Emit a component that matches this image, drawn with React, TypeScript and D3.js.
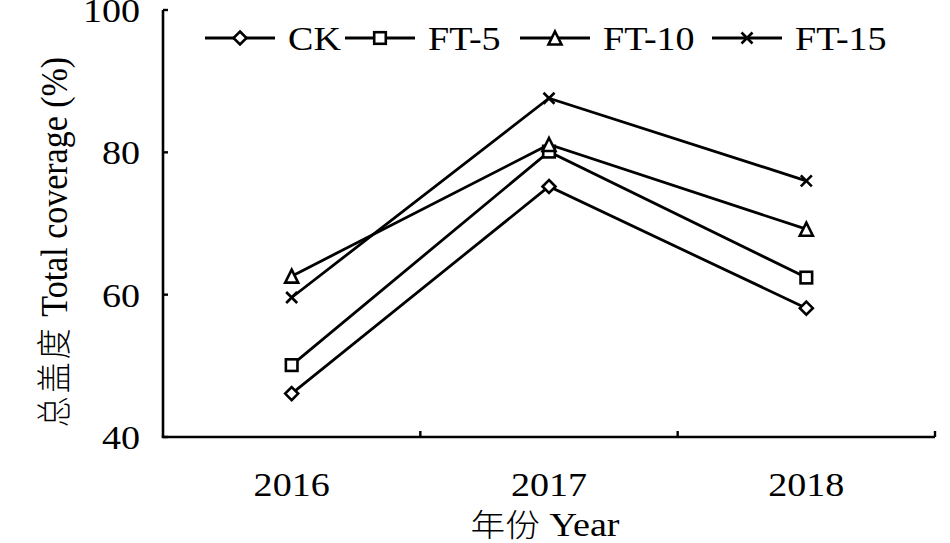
import React from "react";
import * as d3 from "d3";

const years = ["2016", "2017", "2018"];
const seriesNames = ["CK", "FT-5", "FT-10", "FT-15"];
const ckValues = [46.1, 75.2, 58.1];
const ft5Values = [50.1, 80.1, 62.4];
const ft10Values = [62.6, 81.1, 69.2];
const ft15Values = [59.6, 87.6, 76.0];
const yTicks = [40, 60, 80, 100];
const markerTypes = ["diamond", "square", "triangle", "cross"];

const W = 950, H = 543;
const left = 163, right = 935, top = 10, bottom = 437;
const FONT = "'Liberation Serif', 'Times New Roman', serif";
const CJK = "'Noto Sans CJK SC', sans-serif";
const SX = 1.12;

function Marker({ type, x, y }: { type: string; x: number; y: number }) {
  const sw = 2.6;
  if (type === "diamond") {
    const r = 6.5;
    return <path d={`M${x},${y - r}L${x + r},${y}L${x},${y + r}L${x - r},${y}Z`} fill="#fff" stroke="#000" strokeWidth={sw} />;
  }
  if (type === "square") {
    const r = 5.8;
    return <rect x={x - r} y={y - r} width={2 * r} height={2 * r} fill="#fff" stroke="#000" strokeWidth={sw} />;
  }
  if (type === "triangle") {
    const r = 6.5;
    return <path d={`M${x},${y - r}L${x + r},${y + r}L${x - r},${y + r}Z`} fill="#fff" stroke="#000" strokeWidth={sw} />;
  }
  const r = 5.5;
  return <path d={`M${x - r},${y - r}L${x + r},${y + r}M${x - r},${y + r}L${x + r},${y - r}`} stroke="#000" strokeWidth={sw} fill="none" />;
}

function T({ x, y, anchor, size, children }: any) {
  return (
    <text transform={`translate(${x},${y}) scale(${SX},1)`} textAnchor={anchor} fontSize={size} fontFamily={FONT} fill="#000">
      {children}
    </text>
  );
}

export default function App() {
  const x = d3.scaleBand<string>().domain(years).range([left, right]);
  const y = d3.scaleLinear().domain([40, 100]).range([bottom, top]);
  const allSeries = [ckValues, ft5Values, ft10Values, ft15Values];
  const line = d3.line<number>().x((_, i) => x(years[i])! + x.bandwidth() / 2).y((v) => y(v));
  const legendX = [205, 345, 520, 712];
  const legendY = 38;

  return (
    <svg width={W} height={H} style={{ position: "absolute", left: 0, top: 0, background: "#fff" }}>
      <rect width={W} height={H} fill="#fff" />
      <line x1={left} x2={left} y1={top} y2={bottom} stroke="#000" strokeWidth={2.6} />
      <line x1={left - 1.3} x2={right} y1={bottom} y2={bottom} stroke="#000" strokeWidth={2.6} />
      {yTicks.map((t) => (
        <g key={t}>
          <line x1={left} x2={left + 5} y1={y(t)} y2={y(t)} stroke="#000" strokeWidth={2.4} />
          <T x={140} y={y(t) + 12} anchor="end" size={34}>{t}</T>
        </g>
      ))}
      {years.map((yr) => (
        <g key={yr}>
          <line x1={x(yr)! + x.bandwidth()} x2={x(yr)! + x.bandwidth()} y1={bottom} y2={bottom - 6} stroke="#000" strokeWidth={2.4} />
          <T x={x(yr)! + x.bandwidth() / 2} y={496} anchor="middle" size={34}>{yr}</T>
        </g>
      ))}
      <text transform={`translate(545,536) scale(${SX},1)`} textAnchor="middle" fontSize={34} fontFamily={FONT} fill="#000">
        <tspan fontFamily={CJK} fontWeight={300} fontSize={31}>年份</tspan> Year
      </text>
      <text transform={`translate(67,242) rotate(-90) scale(1,${SX})`} textAnchor="middle" fontSize={34} fontFamily={FONT} fill="#000">
        <tspan fontFamily={CJK} fontWeight={300} fontSize={31} letterSpacing={3}>总盖度</tspan> Total coverage (%)
      </text>
      {allSeries.map((vals, si) => (
        <g key={si}>
          <path d={line(vals)!} fill="none" stroke="#000" strokeWidth={2.8} />
          {vals.map((v, i) => (
            <Marker key={i} type={markerTypes[si]} x={x(years[i])! + x.bandwidth() / 2} y={y(v)} />
          ))}
        </g>
      ))}
      {seriesNames.map((n, i) => (
        <g key={n}>
          <line x1={legendX[i]} x2={legendX[i] + 70} y1={legendY} y2={legendY} stroke="#000" strokeWidth={2.8} />
          <Marker type={markerTypes[i]} x={legendX[i] + 35} y={legendY} />
          <T x={legendX[i] + 83} y={legendY + 12} anchor="start" size={34}>{n}</T>
        </g>
      ))}
    </svg>
  );
}
